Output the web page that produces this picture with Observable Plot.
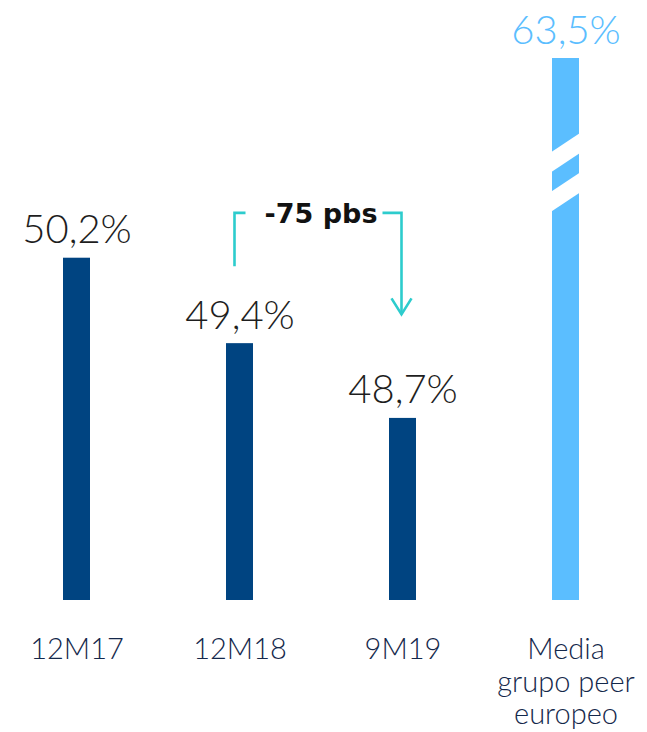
<!DOCTYPE html>
<html>
<head>
<meta charset="utf-8">
<script src="https://cdn.jsdelivr.net/npm/d3@7"></script>
<script src="https://cdn.jsdelivr.net/npm/@observablehq/plot@0.6"></script>
<style>
  html, body { margin: 0; padding: 0; background: #fff; }
  #chart svg { display: block; }
</style>
</head>
<body>
<div id="chart"></div>
<script>
// ---- data ----
const categories = ["12M17", "12M18", "9M19", "Media\ngrupo peer\neuropeo"];
const values = [50.2, 49.4, 48.7, 63.5];
const barColors = ["#004481", "#004481", "#004481", "#5bbeff"];
const labelColors = ["#1e1e1e", "#1e1e1e", "#1e1e1e", "#5bbeff"];
const annotationText = "-75 pbs";
const annotationFrom = "12M18";
const annotationTo = "9M19";
const annotationLevels = { start: 50.12, top: 50.62, end: 49.67 };
const breakLevels = [51.1, 50.73]; // y (data units) of the axis-break stripes at the bar's left edge

const data = categories.map((c, i) => ({ cat: c, value: values[i], fill: barColors[i], lab: labelColors[i] }));
const fmt = v => v.toFixed(1).replace(".", ",") + "%";

const FONT = "Lato, 'Open Sans', sans-serif";
const teal = "#2dcccd";

// custom mark: axis-break stripes on the clipped bar
function breakMark(index, scales, values, dims) {
  const {x, y} = scales;
  const bw = x.bandwidth ? x.bandwidth() : 27;
  const bl = x(categories[3]);
  const slope = -18 / 27;
  const x0 = bl - 4, x1 = bl + bw + 4;
  const g = d3.create("svg:g");
  for (const b of breakLevels) {
    const yl = y(b);
    const half = 10;
    const y0 = yl + slope * (x0 - bl), y1 = yl + slope * (x1 - bl);
    g.append("path")
      .attr("d", `M${x0},${y0 - half}L${x1},${y1 - half}L${x1},${y1 + half}L${x0},${y0 + half}Z`)
      .attr("fill", "#fff");
  }
  return g.node();
}

// custom mark: bracket annotation with arrow
function annotationMark(index, scales, values, dims) {
  const {x, y} = scales;
  const bw = x.bandwidth ? x.bandwidth() : 27;
  const xa = x(annotationFrom) + bw / 2 - 5;
  const xb = x(annotationTo) + bw / 2 - 1;
  const xm = (x(annotationFrom) + x(annotationTo)) / 2 + bw / 2;
  const yt = y(annotationLevels.top), ys = y(annotationLevels.start), ye = y(annotationLevels.end);
  const g = d3.create("svg:g").attr("fill", "none").attr("stroke", teal).attr("stroke-width", 2.6);
  g.append("path").attr("d", `M${xa},${ys}V${yt}H${xa + 11}`);
  g.append("path").attr("d", `M${xb - 19},${yt}H${xb}V${ye}`);
  g.append("path").attr("d", `M${xb - 10},${ye - 16}L${xb},${ye}L${xb + 10},${ye - 16}`).attr("stroke-linejoin", "miter");
  g.append("text")
    .attr("x", xm).attr("y", yt).attr("dy", "0.36em")
    .attr("text-anchor", "middle")
    .attr("stroke", "none").attr("fill", "#121212")
    .attr("font-family", "'DejaVu Sans', sans-serif").attr("font-weight", "bold").attr("font-size", 27)
    .text(annotationText);
  return g.node();
}

const chart = Plot.plot({
  width: 647,
  height: 732,
  marginTop: 58,
  marginBottom: 132,
  marginLeft: 0,
  marginRight: 5,
  style: { fontFamily: FONT, background: "#fff" },
  x: { domain: categories, paddingInner: 0.835, paddingOuter: 0.375, label: null },
  y: { domain: [46.995, 52.07], clamp: true, axis: null },
  marks: [
    Plot.barY(data, { x: "cat", y: "value", fill: d => d.fill }),
    breakMark,
    Plot.text(data, {
      x: "cat", y: "value", text: d => fmt(d.value), fill: d => d.lab,
      dy: -15, lineAnchor: "bottom", fontSize: 40, fontWeight: 300
    }),
    Plot.axisX({
      tickSize: 0, tickPadding: 35, fontSize: 29, lineHeight: 1.13,
      fill: "#14284b", fontWeight: 300, label: null
    }),
    annotationMark
  ]
});
document.getElementById("chart").appendChild(chart);
</script>
</body>
</html>
